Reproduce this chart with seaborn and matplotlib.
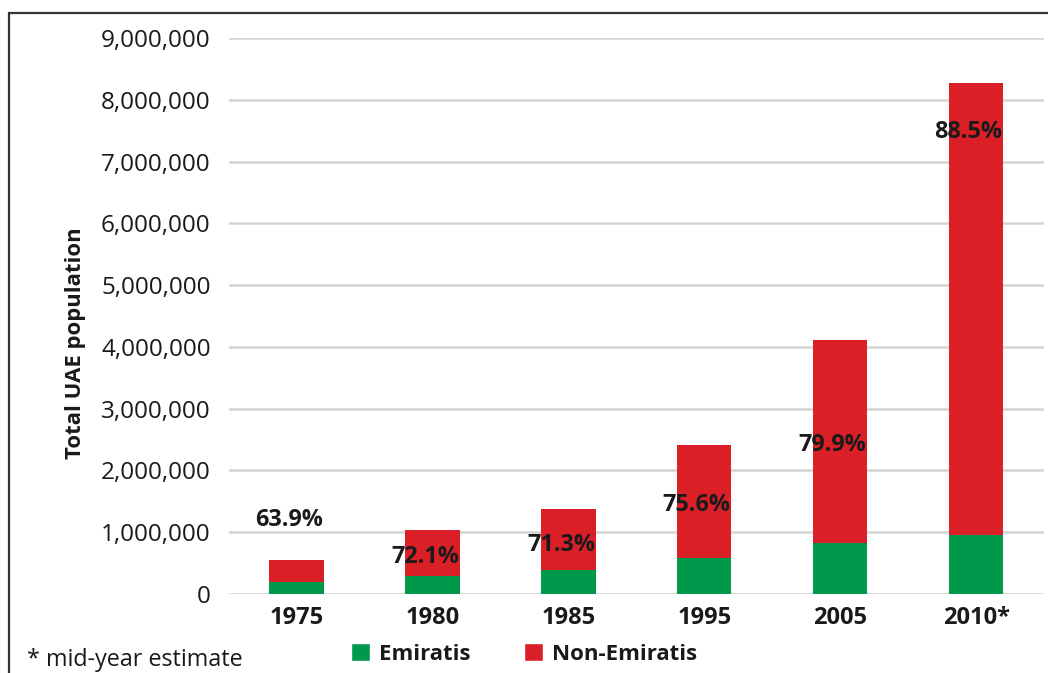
import matplotlib
matplotlib.use("Agg")
import matplotlib.pyplot as plt
from matplotlib.lines import Line2D
from matplotlib.patches import Patch
from matplotlib.ticker import FuncFormatter
import seaborn as sns
import pandas as pd

# UAE population by census year
years = ["1975", "1980", "1985", "1995", "2005", "2010*"]
total_pop = [557887, 1042099, 1379303, 2411041, 4106427, 8264070]
emirati_pop = [201544, 290544, 396114, 587330, 825495, 947997]
non_emirati_pct = [63.9, 72.1, 71.3, 75.6, 79.9, 88.5]
# vertical placement of the percentage labels
pct_label_y = [1200000, 600000, 790000, 1440000, 2410000, 7480000]

GREEN = "#00984A"
RED = "#DA1F27"

sns.set_theme(style="whitegrid")
plt.rcParams["font.family"] = ["Open Sans", "DejaVu Sans"]

df = pd.DataFrame({"year": years, "total": total_pop, "emirati": emirati_pop})

W, H = 1048, 673
fig = plt.figure(figsize=(W / 100, H / 100), dpi=100)
fig.patch.set_facecolor("white")
ax = fig.add_axes([228.7 / W, (H - 594) / H, (1044 - 228.7) / W, (594 - 38) / H])

# full bar in red, Emirati share drawn over its lower part in green
sns.barplot(data=df, x="year", y="total", color=RED, saturation=1, width=0.4,
            linewidth=0, ax=ax, zorder=3)
sns.barplot(data=df, x="year", y="emirati", color=GREEN, saturation=1, width=0.4,
            linewidth=0, ax=ax, zorder=3)

# share of non-Emiratis, set slightly left of each bar centre
for i, (p, yv) in enumerate(zip(non_emirati_pct, pct_label_y)):
    ax.text(i - 0.055, yv, f"{p}%", ha="center", va="center", fontsize=16.8,
            fontweight="bold", color="#1a1a1a", zorder=5)

ax.set_xlim(-0.5, 5.5)
ax.set_ylim(0, 9000000)
ax.set_yticks(range(0, 9000001, 1000000))
ax.yaxis.set_major_formatter(FuncFormatter(lambda v, _: f"{int(v):,}"))
ax.grid(axis="y", color="#d4d4ce", linewidth=1.8)
ax.grid(axis="x", visible=False)
for s in ax.spines.values():
    s.set_visible(False)
ax.tick_params(axis="y", length=0, pad=13, labelsize=17.5, labelcolor="#1a1a1a")
ax.tick_params(axis="x", length=0, pad=9, labelsize=17, labelcolor="#1a1a1a")
for lbl in ax.get_xticklabels():
    lbl.set_fontweight("bold")

ax.set_xlabel("")
ax.set_ylabel("Total UAE population", fontsize=15.9, fontweight="bold", color="#1a1a1a")
ax.yaxis.set_label_coords((75 - 228.7) / (1044 - 228.7), (594 - 343) / (594 - 38))
ax.yaxis.label.set_verticalalignment("center")

handles = [Patch(facecolor=GREEN, label="Emiratis"),
           Patch(facecolor=RED, label="Non-Emiratis")]
leg = fig.legend(handles=handles, loc="center left", ncol=2,
                 bbox_to_anchor=(340 / W, (H - 654) / H), frameon=False,
                 handlelength=0.85, handleheight=0.85, handletextpad=0.4,
                 columnspacing=2.4, borderpad=0,
                 prop={"size": 16, "weight": "bold"})
for t in leg.get_texts():
    t.set_color("#1a1a1a")

fig.text(27 / W, (H - 666) / H, "* mid-year estimate", fontsize=16.8,
         va="baseline", ha="left", color="#1a1a1a")

# outer frame: left and top edges
fig.add_artist(Line2D([9 / W, 9 / W], [0, 1 - 13 / H], transform=fig.transFigure,
                      color="#333333", linewidth=1.6))
fig.add_artist(Line2D([9 / W, 1], [1 - 13 / H, 1 - 13 / H], transform=fig.transFigure,
                      color="#333333", linewidth=1.6))

fig.savefig("out.png", dpi=100, facecolor="white")
